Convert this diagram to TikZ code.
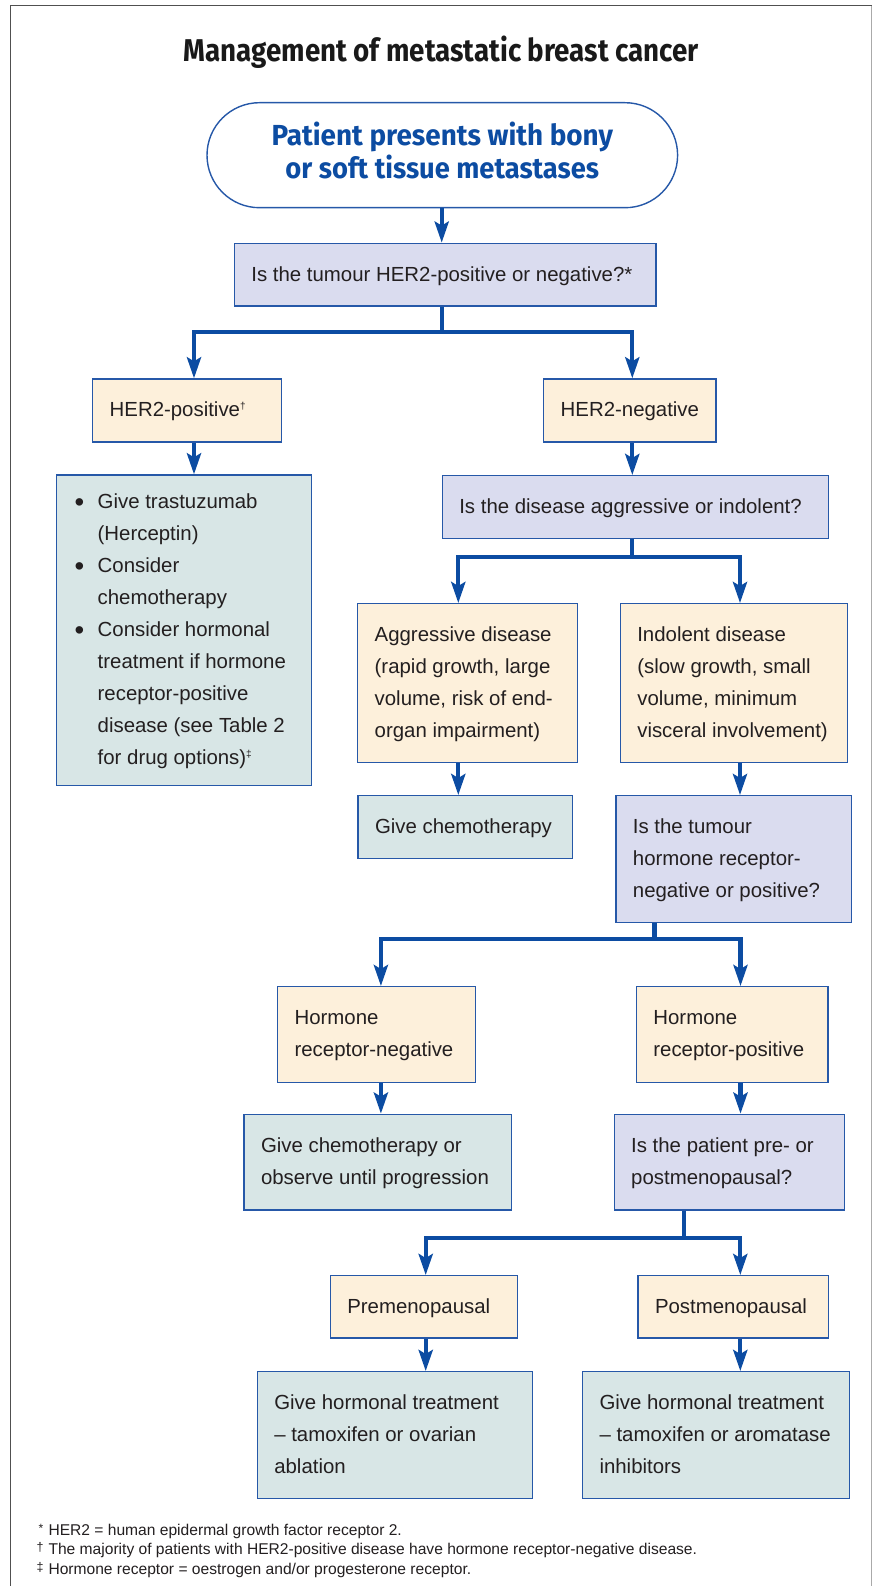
\documentclass[tikz,border=0pt]{standalone}
\usepackage{fontspec}
\usepackage{graphicx}
\setmainfont{Liberation Sans}
\newfontfamily\condfont{Fira Sans}
\usetikzlibrary{arrows.meta}
\definecolor{qfill}{RGB}{218,220,239}
\definecolor{cfill}{RGB}{253,240,219}
\definecolor{gfill}{RGB}{216,230,230}
\definecolor{bord}{RGB}{38,88,168}
\definecolor{arrblue}{RGB}{12,76,162}
\definecolor{txt}{RGB}{35,31,32}
\definecolor{frameD}{RGB}{80,80,80}
\definecolor{frameL}{RGB}{170,170,170}
\newcommand{\bl}[2]{\makebox[#1pt][l]{\begin{tabular}{@{}l@{}}#2\end{tabular}}}
\newcommand{\supmark}[1]{\raisebox{7pt}{\fontsize{10}{10}\selectfont #1}}
\newcommand{\bitem}{\makebox[24pt][l]{\hspace{1pt}\raisebox{-2.4pt}{\scalebox{1.35}{•}}}}
\newcommand{\bcont}{\hspace*{24pt}}
\begin{document}
\begin{tikzpicture}[x=1pt,y=-1pt,
  box/.style={draw=bord, line width=1.3pt, inner xsep=17pt, inner ysep=0pt,
    font=\fontsize{20.4}{32}\selectfont, text=txt},
  qbox/.style={box, fill=qfill},
  cbox/.style={box, fill=cfill},
  gbox/.style={box, fill=gfill},
  conn/.style={draw=arrblue, line width=4.2pt, line join=miter},
  arr/.style={conn, -{Stealth[length=21pt,width=14pt,inset=4pt]}},
  arrtwo/.style={conn, {Stealth[length=21pt,width=14pt,inset=4pt]}-{Stealth[length=21pt,width=14pt,inset=4pt]}},
  titlest/.style={anchor=base, inner sep=0pt, text=black!90,
    font=\condfont\bfseries\fontsize{31.5}{36}\selectfont},
  pillst/.style={draw=bord, line width=1.4pt, fill=white, rounded corners=52.5pt,
    inner sep=0pt, text=arrblue, font=\condfont\bfseries\fontsize{29}{32}\selectfont},
  fn/.style={anchor=base west, inner sep=0pt, text=txt, font=\fontsize{15.6}{18}\selectfont}
]
\useasboundingbox (0,0) rectangle (873,1586);
\fill[white] (0,0) rectangle (873,1586);
% frame
\draw[line width=1.5pt, draw=frameD] (10.7,1586) -- (10.7,5.7) -- (871.7,5.7);
\draw[line width=1.5pt, draw=frameL] (871.7,5.7) -- (871.7,1586);

% title
\node[titlest] (title) at (441.25,61.7) {\resizebox{515pt}{\height}{Management of metastatic breast cancer}};

% start
\node[pillst, minimum width=470.6, minimum height=105] (pill) at (442.3,155.2)
  {\begin{tabular}{@{}c@{}}\resizebox{341.5pt}{\height}{Patient presents with bony}\\\resizebox{313.6pt}{\height}{or soft tissue metastases}\end{tabular}};

% boxes
\node[qbox, minimum width=421.6, minimum height=62.7] (q1) at (445.2,274.65)
  {\bl{387.6}{Is the tumour HER2-positive or negative?*}};
\node[cbox, minimum width=188.6, minimum height=63] (her2pos) at (187,410.5)
  {\bl{154.6}{HER2-positive\supmark{†}}};
\node[cbox, minimum width=172.3, minimum height=63] (her2neg) at (629.85,410.5)
  {\bl{138.3}{HER2-negative}};
\node[gbox, minimum width=255, minimum height=310.7] (green1) at (184.2,630.35)
  {\bl{221}{\bitem Give trastuzumab\\\bcont (Herceptin)\\\bitem Consider\\\bcont chemotherapy\\\bitem Consider hormonal\\\bcont treatment if hormone\\\bcont receptor-positive\\\bcont disease (see Table 2\\\bcont for drug options)\supmark{‡}}};
\node[qbox, minimum width=386, minimum height=62.6] (q2) at (635.3,507)
  {\bl{352}{Is the disease aggressive or indolent?}};
\node[cbox, minimum width=220, minimum height=158.6] (aggr) at (467.7,683)
  {\bl{186}{Aggressive disease\\(rapid growth, large\\volume, risk of end-\\organ impairment)}};
\node[cbox, minimum width=227.4, minimum height=158.6] (indol) at (734,683)
  {\bl{193.4}{Indolent disease\\(slow growth, small\\volume, minimum\\visceral involvement)}};
\node[gbox, minimum width=214.4, minimum height=62.6] (chemo) at (465.2,827)
  {\bl{180.4}{Give chemotherapy}};
\node[qbox, minimum width=235.4, minimum height=126.6] (q3) at (733.6,859)
  {\bl{201.4}{Is the tumour\\hormone receptor-\\negative or positive?}};
\node[cbox, minimum width=197.6, minimum height=95.6] (hrneg) at (376.4,1034.5)
  {\bl{163.6}{Hormone\\receptor-negative}};
\node[cbox, minimum width=191.5, minimum height=95.6] (hrpos) at (732.15,1034.5)
  {\bl{157.5}{Hormone\\receptor-positive}};
\node[gbox, minimum width=267.3, minimum height=95.7] (chemobs) at (377.65,1162.15)
  {\bl{233.3}{Give chemotherapy or\\observe until progression}};
\node[qbox, minimum width=230.1, minimum height=95.7] (q4) at (729.25,1162.15)
  {\bl{196.1}{Is the patient pre- or\\postmenopausal?}};
\node[cbox, minimum width=187.4, minimum height=62.3] (pre) at (424,1306.85)
  {\bl{153.4}{Premenopausal}};
\node[cbox, minimum width=190.3, minimum height=62.3] (post) at (733.15,1306.85)
  {\bl{156.3}{Postmenopausal}};
\node[gbox, minimum width=275, minimum height=126.6] (hormL) at (394.8,1435)
  {\bl{241}{Give hormonal treatment\\– tamoxifen or ovarian\\ablation}};
\node[gbox, minimum width=267.2, minimum height=126.6] (hormR) at (716.1,1435)
  {\bl{233.2}{Give hormonal treatment\\– tamoxifen or aromatase\\inhibitors}};

% branch points
\coordinate (b1) at (441.7,332.3);
\coordinate (b1l) at (194,332.3);
\coordinate (b1r) at (632.3,332.3);
\coordinate (b2) at (632,557);
\coordinate (b2l) at (458.3,557);
\coordinate (b2r) at (740,557);
\coordinate (b3) at (654.4,938.7);
\coordinate (b3l) at (380.9,938.7);
\coordinate (b3r) at (740.5,938.7);
\coordinate (b4) at (684.3,1237.7);
\coordinate (b4l) at (425.7,1237.7);
\coordinate (b4r) at (740.3,1237.7);

% connectors
\draw[arr] (pill.south -| b1) -- (b1 |- q1.north);
\draw[conn] (b1 |- q1.south) -- (b1);
\draw[arrtwo] (b1l |- her2pos.north) -- (b1l) -- (b1r) -- (b1r |- her2neg.north);
\draw[arr] (b1l |- her2pos.south) -- (b1l |- green1.north);
\draw[arr] (b1r |- her2neg.south) -- (b1r |- q2.north);

\draw[conn] (b2 |- q2.south) -- (b2);
\draw[arrtwo] (b2l |- aggr.north) -- (b2l) -- (b2r) -- (b2r |- indol.north);
\draw[arr] (b2l |- aggr.south) -- (b2l |- chemo.north);
\draw[arr] (b2r |- indol.south) -- (b2r |- q3.north);

\draw[conn] (b3 |- q3.south) -- (b3);
\draw[arrtwo] (b3l |- hrneg.north) -- (b3l) -- (b3r) -- (b3r |- hrpos.north);
\draw[arr] (b3l |- hrneg.south) -- (b3l |- chemobs.north);
\draw[arr] (b3r |- hrpos.south) -- (b3r |- q4.north);

\draw[conn] (b4 |- q4.south) -- (b4);
\draw[arrtwo] (b4l |- pre.north) -- (b4l) -- (b4r) -- (b4r |- post.north);
\draw[arr] (b4l |- pre.south) -- (b4l |- hormL.north);
\draw[arr] (b4r |- post.south) -- (b4r |- hormR.north);

% footnotes
\node[fn] (fn1) at (36.5,1535) {\makebox[11.8pt][l]{\hspace{2pt}\raisebox{2.5pt}{\fontsize{12}{12}\selectfont *}}HER2 = human epidermal growth factor receptor 2.};
\node[fn] (fn2) at (36.5,1554.5) {\makebox[11.8pt][l]{\raisebox{3pt}{\fontsize{12.5}{12}\selectfont †}}The majority of patients with HER2-positive disease have hormone receptor-negative disease.};
\node[fn] (fn3) at (36.5,1574) {\makebox[11.8pt][l]{\raisebox{3pt}{\fontsize{12.5}{12}\selectfont ‡}}Hormone receptor = oestrogen and/or progesterone receptor.};
\end{tikzpicture}
\end{document}
